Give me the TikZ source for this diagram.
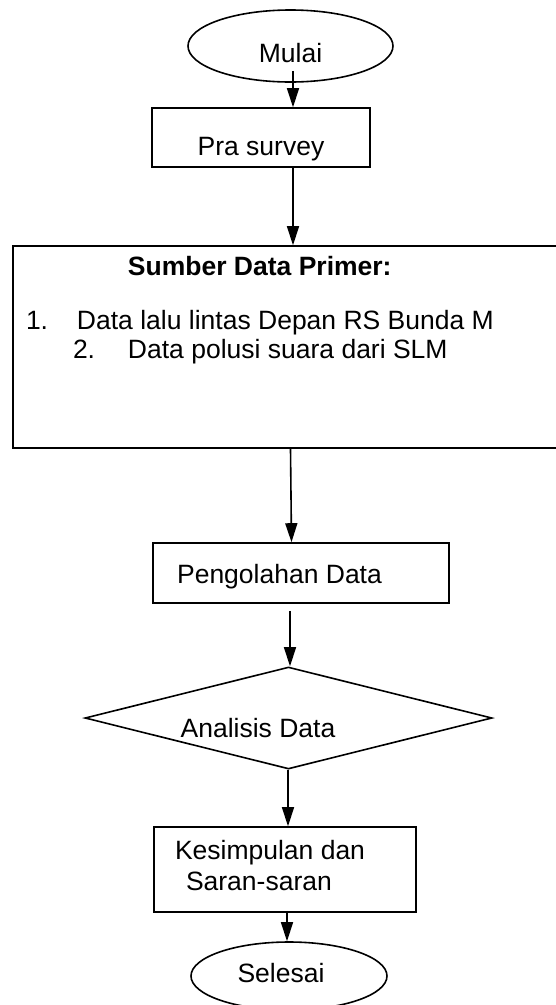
\documentclass[tikz,border=0pt]{standalone}
\usepackage{fontspec}
\setmainfont{Liberation Sans}
\usetikzlibrary{arrows.meta,calc,shapes.geometric}
\tikzset{
  flowline/.style={->, line width=1.6pt, >={Triangle[length=19pt,width=12pt]}},
  flowbox/.style={
    draw,
    rectangle,
    line width=1.6pt,
    inner sep=0pt,
    font=\fontsize{26.5pt}{29pt}\selectfont
  },
  flowterm/.style={
    draw,
    ellipse,
    line width=1.6pt,
    inner sep=0pt,
    font=\fontsize{26.5pt}{29pt}\selectfont
  },
  flowdecide/.style={
    draw,
    diamond,
    aspect=4,
    line width=1.6pt,
    inner sep=0pt,
    font=\fontsize{26.5pt}{29pt}\selectfont
  }
}
\begin{document}
\begin{tikzpicture}[x=1pt,y=-1pt]
  \useasboundingbox (0,0) rectangle (556,1005);
  \node[flowterm, minimum width=205pt, minimum height=72pt, text height=38pt, text depth=6pt] (mulai) at (290.5,46) {Mulai};
  \node[flowbox, minimum width=218pt, minimum height=59pt, text height=41pt, text depth=6pt] (pra) at (261,137.5) {Pra survey};
  \node[flowbox] (sumber) at (285.5,347) {\parbox[c][202pt][t]{545pt}{\vspace*{10pt}\hspace*{115pt}\textbf{Sumber Data Primer:}\\[25pt]
    \hspace*{13pt}\makebox[51pt][l]{1.}Data lalu lintas Depan RS Bunda M\\
    \hspace*{60pt}\makebox[55pt][l]{2.}Data polusi suara dari SLM}};
  \node[flowbox, minimum width=296pt, minimum height=60pt, text height=26pt, text depth=6pt] (olah) at (301,573) {\hspace*{-43pt}Pengolahan Data};
  \node[flowdecide, minimum width=407pt, minimum height=102pt, text height=44pt, text depth=6pt] (analisis) at (288.5,718) {\hspace*{-61pt}Analisis Data};
  \node[flowbox] (kesim) at (285,869.5) {\parbox[c][85pt][t]{262pt}{\vspace*{13pt}\hspace*{21pt}Kesimpulan dan\\[2pt]
    \hspace*{32pt}Saran-saran}};
  \node[flowterm, minimum width=196pt, minimum height=68pt, text height=18pt, text depth=6pt] (selesai) at (289,976) {\hspace*{-16pt}Selesai};

  \draw[flowline] ($(mulai.south)+(2.5,-12)$) -- ($(pra.north)+(32,0)$);
  \draw[flowline] ($(pra.south)+(32,0)$) -- ($(sumber.north)+(7.5,0)$);
  \draw[flowline] ($(sumber.south)+(5,0)$) -- ($(olah.north)+(-9.5,0)$);
  \draw[flowline] ($(olah.south)+(-11,7)$) -- ($(analisis.north)+(1.5,0)$);
  \draw[flowline] ($(analisis.south)+(-0.5,0)$) -- ($(kesim.north)+(3,0)$);
  \draw[flowline] ($(kesim.south)+(2,-2)$) -- ($(selesai.north)+(-2,0)$);
\end{tikzpicture}
\end{document}
